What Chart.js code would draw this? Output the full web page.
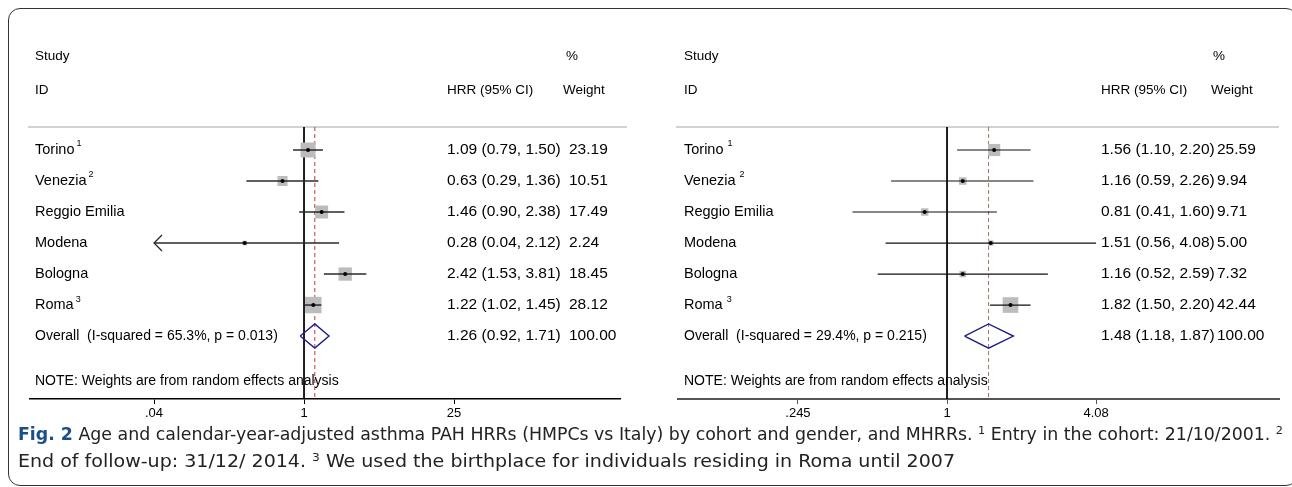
<!DOCTYPE html>
<html><head><meta charset="utf-8">
<script src="https://cdn.jsdelivr.net/npm/chart.js@4.4.0/dist/chart.umd.min.js"></script>
<style>
html,body{margin:0;padding:0;background:#fff;}
body{width:1292px;height:487px;position:relative;overflow:hidden;}
#frame{position:absolute;left:8px;top:8px;width:1290px;height:478px;border:1.5px solid #333;border-radius:12px;box-sizing:border-box;}
.panel{position:absolute;top:0;width:646px;height:425px;}
#p1{left:0}
#p2{left:646px}
#caption{position:absolute;left:18px;top:421px;font-family:"Liberation Sans Narrow","DejaVu Sans Condensed","Liberation Sans",sans-serif;font-size:17px;line-height:27px;color:#222;white-space:nowrap;}
#caption div{transform-origin:0 0;}
#caption b{color:#1b4f8a;}
#caption sup{font-size:11px;vertical-align:6px;line-height:0;}
</style>
</head><body>
<div id="frame"></div>
<div class="panel" id="p1"><canvas id="c1" width="646" height="425"></canvas></div>
<div class="panel" id="p2"><canvas id="c2" width="646" height="425"></canvas></div>
<div id="caption"><div id="cap1"><b>Fig. 2</b> Age and calendar-year-adjusted asthma PAH HRRs (HMPCs vs Italy) by cohort and gender, and MHRRs. <sup>1</sup> Entry in the cohort: 21/10/2001. <sup>2</sup></div><div id="cap2">End of follow-up: 31/12/ 2014. <sup>3</sup> We used the birthplace for individuals residing in Roma until 2007</div></div>
<script>
// ---------- data ----------
const studies = ['Torino', 'Venezia', 'Reggio Emilia', 'Modena', 'Bologna', 'Roma'];
const studySup = ['1', '2', '', '', '', '3'];

const leftHRR = [1.09, 0.63, 1.46, 0.28, 2.42, 1.22];
const leftLo = [0.79, 0.29, 0.90, 0.04, 1.53, 1.02];
const leftHi = [1.50, 1.36, 2.38, 2.12, 3.81, 1.45];
const leftWeight = [23.19, 10.51, 17.49, 2.24, 18.45, 28.12];
const leftClipLow = [false, false, false, true, false, false];
const leftOverall = [1.26, 0.92, 1.71];
const leftHet = ['65.3%', '0.013'];
const leftTicks = [0.04, 1, 25];
const leftTickLabels = ['.04', '1', '25'];

const rightHRR = [1.56, 1.16, 0.81, 1.51, 1.16, 1.82];
const rightLo = [1.10, 0.59, 0.41, 0.56, 0.52, 1.50];
const rightHi = [2.20, 2.26, 1.60, 4.08, 2.59, 2.20];
const rightWeight = [25.59, 9.94, 9.71, 5.00, 7.32, 42.44];
const rightClipLow = [false, false, false, false, false, false];
const rightOverall = [1.48, 1.18, 1.87];
const rightHet = ['29.4%', '0.215'];
const rightTicks = [0.245, 1, 4.08];
const rightTickLabels = ['.245', '1', '4.08'];

// ---------- layout / style ----------
const Y_MIN = -0.742, Y_MAX = 8.03, NOTE_ROW = 7.45;
const FONT = '"Liberation Sans", Arial, sans-serif';
const F_HEAD = '13.5px ' + FONT, F_LAB = '14.5px ' + FONT, F_OV = '14px ' + FONT, F_NUM = '15.5px ' + FONT, F_NOTE = '14px ' + FONT, F_SUP = '9px ' + FONT;

function forestPlugin(cfg) {
  return {
    id: 'forest_' + cfg.id,
    beforeDatasetsDraw(chart) {
      const ctx = chart.ctx, a = chart.chartArea;
      ctx.save();
      ctx.strokeStyle = '#d2d2d2';
      ctx.lineWidth = 2;
      ctx.beginPath();
      ctx.moveTo(a.left - 2, a.top);
      ctx.lineTo(a.right + cfg.sepExt, a.top);
      ctx.stroke();
      ctx.restore();
    },
    afterDatasetsDraw(chart) {
      const ctx = chart.ctx, ys = chart.scales.y, xs = chart.scales.x;
      ctx.save();
      ctx.fillStyle = '#000';
      ctx.textBaseline = 'middle';
      ctx.font = F_HEAD;
      ctx.fillText('Study', cfg.labelX, 56);
      ctx.fillText('ID', cfg.labelX, 90);
      ctx.fillText('%', cfg.pctX, 56);
      ctx.fillText('HRR (95% CI)', cfg.hrrX, 90);
      ctx.fillText('Weight', cfg.weightHeadX, 90);
      cfg.studies.forEach((s, i) => {
        const y = ys.getPixelForValue(i);
        ctx.font = F_LAB;
        ctx.fillText(s, cfg.labelX, y);
        if (cfg.sup[i]) {
          const w = ctx.measureText(s).width;
          ctx.font = F_SUP;
          ctx.fillText(cfg.sup[i], cfg.labelX + w + cfg.supGap, y - 6);
        }
        ctx.font = F_NUM;
        const ci = cfg.hrr[i].toFixed(2) + ' (' + cfg.lo[i].toFixed(2) + ', ' + cfg.hi[i].toFixed(2) + ')';
        ctx.fillText(ci, cfg.hrrX, y);
        ctx.fillText(cfg.w[i].toFixed(2), cfg.wX, y);
        if (cfg.clip[i]) {
          const px = xs.getPixelForValue(cfg.lo[i]);
          ctx.strokeStyle = '#222';
          ctx.lineWidth = 1.2;
          ctx.beginPath();
          ctx.moveTo(px + 8, y - 8);
          ctx.lineTo(px, y);
          ctx.lineTo(px + 8, y + 8);
          ctx.stroke();
        }
      });
      const oy = ys.getPixelForValue(cfg.hrr.length);
      ctx.font = F_OV;
      ctx.fillText('Overall  (I-squared = ' + cfg.het[0] + ', p = ' + cfg.het[1] + ')', cfg.labelX, oy);
      const ov = cfg.ov;
      ctx.font = F_NUM;
      ctx.fillText(ov[0].toFixed(2) + ' (' + ov[1].toFixed(2) + ', ' + ov[2].toFixed(2) + ')', cfg.hrrX, oy);
      ctx.fillText('100.00', cfg.wX, oy);
      ctx.font = F_NOTE;
      ctx.fillText('NOTE: Weights are from random effects analysis', cfg.labelX, ys.getPixelForValue(NOTE_ROW));
      ctx.restore();
    }
  };
}

function buildChart(canvasId, cfg) {
  const n = cfg.hrr.length;
  const ds = [];
  ds.push({type: 'line', data: [{x: 1, y: Y_MIN}, {x: 1, y: Y_MAX}], borderColor: '#000', borderWidth: 1, pointRadius: 0, order: 20});
  ds.push({type: 'line', data: [{x: cfg.ov[0], y: Y_MIN}, {x: cfg.ov[0], y: Y_MAX}], borderColor: cfg.dashColor, borderDash: [4, 3], borderWidth: 1, pointRadius: 0, order: 19});
  ds.push({type: 'scatter', data: cfg.hrr.map((v, i) => ({x: v, y: i})), pointStyle: 'rect',
    pointRadius: cfg.w.map(w => cfg.sqK * Math.sqrt(w) / 1.4142), backgroundColor: '#bcbcbc', borderWidth: 0, order: 15});
  cfg.hrr.forEach((v, i) => {
    ds.push({type: 'line', data: [{x: cfg.lo[i], y: i}, {x: cfg.hi[i], y: i}], borderColor: cfg.ciColor, borderWidth: cfg.ciWidth, pointRadius: 0, order: 5});
  });
  ds.push({type: 'scatter', data: cfg.hrr.map((v, i) => ({x: v, y: i})), pointStyle: 'circle', pointRadius: 2, backgroundColor: '#000', borderWidth: 0, order: 1});
  const ov = cfg.ov, dh = 0.39;
  ds.push({type: 'line', data: [{x: ov[1], y: n}, {x: ov[0], y: n - dh}, {x: ov[2], y: n}, {x: ov[0], y: n + dh}, {x: ov[1], y: n}],
    borderColor: '#1c1c86', borderWidth: 1.4, pointRadius: 0, fill: false, order: 2});

  return new Chart(document.getElementById(canvasId), {
    type: 'scatter',
    data: {datasets: ds},
    options: {
      responsive: false, animation: false, events: [],
      layout: {padding: {left: cfg.padL, right: cfg.padR, top: 127, bottom: 0}},
      plugins: {legend: {display: false}, tooltip: {enabled: false}},
      scales: {
        x: {
          type: 'logarithmic', min: cfg.xMin, max: cfg.xMax,
          afterBuildTicks: s => { s.ticks = cfg.ticks.map(v => ({value: v})); },
          afterFit: s => { s.height = 26; },
          ticks: {autoSkip: false, maxRotation: 0, padding: 2, color: '#000', font: {family: FONT, size: 13},
            callback: v => { const k = cfg.ticks.indexOf(v); return k >= 0 ? cfg.tickLabels[k] : ''; }},
          grid: {drawOnChartArea: false, drawTicks: true, tickLength: 5, color: cfg.axisColor, tickColor: cfg.axisColor, lineWidth: 1},
          border: {display: true, color: cfg.axisColor, width: cfg.axisWidth}
        },
        y: {type: 'linear', display: false, min: Y_MIN, max: Y_MAX, reverse: true}
      }
    },
    plugins: [forestPlugin(cfg)]
  });
}

buildChart('c1', {
  id: 'L', studies: studies, sup: studySup, supGap: 2,
  hrr: leftHRR, lo: leftLo, hi: leftHi, w: leftWeight, clip: leftClipLow, ov: leftOverall, het: leftHet,
  ticks: leftTicks, tickLabels: leftTickLabels,
  xMin: Math.exp(-5.88), xMax: Math.exp(6.78),
  padL: 30, padR: 26, sepExt: 7,
  labelX: 35, hrrX: 447, wX: 569, pctX: 566, weightHeadX: 563,
  sqK: 3.1, ciColor: '#2a2a2a', ciWidth: 1.5, dashColor: '#c0392b', axisColor: '#000', axisWidth: 1.5
});
buildChart('c2', {
  id: 'R', studies: studies, sup: studySup, supGap: 4,
  hrr: rightHRR, lo: rightLo, hi: rightHi, w: rightWeight, clip: rightClipLow, ov: rightOverall, het: rightHet,
  ticks: rightTicks, tickLabels: rightTickLabels,
  xMin: Math.exp(-2.538), xMax: Math.exp(3.132),
  padL: 32, padR: 13, sepExt: 0,
  labelX: 38, hrrX: 455, wX: 571, pctX: 567, weightHeadX: 565,
  sqK: 2.4, ciColor: '#111', ciWidth: 1.2, dashColor: '#b06a66', axisColor: '#555', axisWidth: 2
});

// fit caption lines to the reference line lengths
(function () {
  function fit(id, target) {
    const el = document.getElementById(id);
    const r = document.createRange(); r.selectNodeContents(el);
    const w = r.getBoundingClientRect().width;
    if (w > 0) el.style.transform = 'scaleX(' + (target / w) + ')';
  }
  fit('cap1', 1265);
  fit('cap2', 937);
})();
</script>
</body></html>
